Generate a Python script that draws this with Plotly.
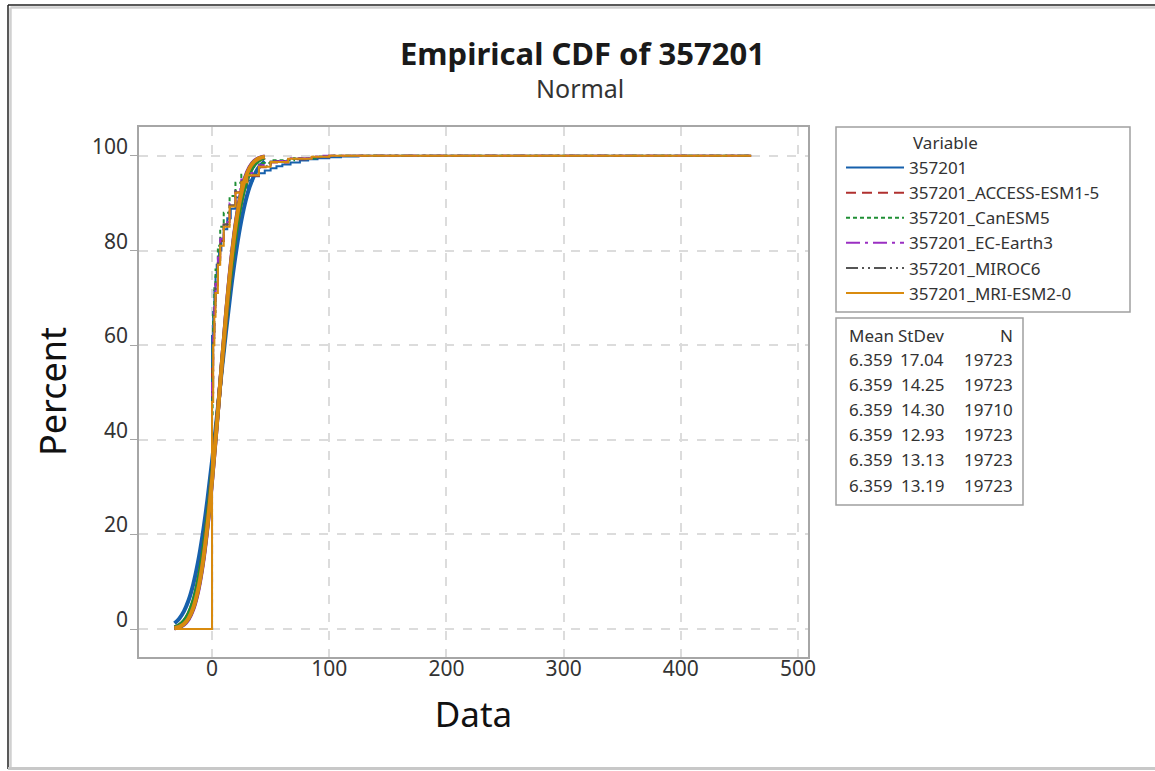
import plotly.graph_objects as go

# ---------------- data ----------------
series_names = ["357201", "357201_ACCESS-ESM1-5", "357201_CanESM5",
                "357201_EC-Earth3", "357201_MIROC6", "357201_MRI-ESM2-0"]

means = ["6.359", "6.359", "6.359", "6.359", "6.359", "6.359"]
stdevs = ["17.04", "14.25", "14.30", "12.93", "13.13", "13.19"]
counts = ["19723", "19723", "19710", "19723", "19723", "19723"]

# fitted normal CDF curves (percent)
fit_x = [-32, -28, -24, -20, -16, -12, -8, -4, 0, 4, 8, 12, 16, 20, 24, 28, 32, 36, 40, 45]
fit_357201 = [1.22, 2.19, 3.74, 6.09, 9.48, 14.07, 19.97, 27.16, 35.45, 44.51, 53.84, 62.97,
              71.43, 78.83, 84.97, 89.80, 93.38, 95.90, 97.58, 98.86]
fit_access = [0.36, 0.80, 1.66, 3.22, 5.83, 9.89, 15.68, 23.36, 32.78, 43.41, 54.58, 65.39,
              75.07, 83.07, 89.21, 93.56, 96.40, 98.12, 99.09, 99.67]
fit_canesm = [0.37, 0.81, 1.69, 3.27, 5.89, 9.96, 15.77, 23.45, 32.82, 43.45, 54.57, 65.33,
              74.98, 82.99, 89.14, 93.49, 96.35, 98.09, 99.07, 99.66]
fit_ecearth = [0.15, 0.39, 0.94, 2.07, 4.19, 7.78, 13.33, 21.16, 31.14, 42.78, 55.05, 66.86,
               77.22, 85.43, 91.37, 95.29, 97.63, 98.90, 99.54, 99.86]
fit_miroc = [0.17, 0.44, 1.04, 2.23, 4.43, 8.10, 13.70, 21.51, 31.41, 42.86, 54.97, 66.64,
             76.86, 85.06, 91.05, 95.03, 97.46, 98.80, 99.48, 99.84]
fit_mri = [0.18, 0.46, 1.07, 2.29, 4.50, 8.20, 13.81, 21.62, 31.49, 42.90, 54.93, 66.57,
           76.76, 84.94, 90.94, 94.96, 97.41, 98.77, 99.46, 99.83]

# empirical CDF step points (data value, percent)
emp_x_357201 = [-32, 0, 1, 2, 3, 4, 6, 8, 10, 13, 16, 20, 25, 30, 35, 40, 45, 50, 55, 60, 67,
                75, 82, 90, 100, 110, 125, 460]
emp_y_357201 = [0, 62, 67, 71.5, 74.5, 77, 80, 82.5, 84.5, 86.8, 88.8, 91.2, 93.3, 94.8, 95.7,
                96.3, 96.9, 97.4, 97.8, 98.2, 98.6, 99.0, 99.3, 99.5, 99.7, 99.85, 100, 100]
emp_x_access = [-32, 0, 1, 2, 3, 5, 7, 10, 15, 20, 25, 30, 40, 50, 65, 80, 100, 460]
emp_y_access = [0, 55, 63, 69, 73, 78, 82, 85.5, 89.5, 92.3, 94.3, 95.8, 97.6, 98.6, 99.3, 99.7, 100, 100]
emp_x_canesm = [-32, 0, 0.5, 1, 2, 3, 5, 7, 10, 15, 20, 25, 32, 40, 50, 70, 90, 100, 460]
emp_y_canesm = [0, 45, 60, 67, 72, 76, 81, 85, 88, 91.5, 94.3, 96, 97.7, 98.5, 99.1, 99.5, 99.8, 100, 100]
emp_x_ecearth = [-32, 0, 1, 2, 3, 5, 7, 10, 15, 20, 25, 30, 40, 50, 65, 85, 95, 460]
emp_y_ecearth = [0, 52, 62, 68, 73, 78.5, 82.5, 86, 90, 93, 95, 96.4, 98, 98.9, 99.5, 99.85, 100, 100]
emp_x_miroc = [-32, 0, 1, 2, 3, 5, 7, 10, 15, 20, 25, 30, 40, 50, 65, 85, 100, 460]
emp_y_miroc = [0, 50, 61, 67, 72, 78, 82, 85.5, 89.5, 92.5, 94.6, 96, 97.8, 98.8, 99.4, 99.8, 100, 100]
emp_x_mri = [-32, 0, 1, 2, 3, 5, 7, 10, 15, 20, 25, 30, 40, 50, 65, 85, 100, 460]
emp_y_mri = [0, 48, 60, 66, 71, 77, 81, 85, 89.3, 92.2, 94.4, 95.9, 97.7, 98.7, 99.4, 99.8, 100, 100]

x_ticks = [0, 100, 200, 300, 400, 500]
y_ticks = [0, 20, 40, 60, 80, 100]

# ---------------- styles ----------------
colors = ["#1660ac", "#b0302f", "#1f8f35", "#9a2fc2", "#555555", "#d98b0f"]
dashes = ["solid", "10px,6px", "4px,3px", "14px,5px,3px,5px", "12px,4px,2px,4px,2px,4px", "solid"]

fits = [fit_357201, fit_access, fit_canesm, fit_ecearth, fit_miroc, fit_mri]
emp_xs = [emp_x_357201, emp_x_access, emp_x_canesm, emp_x_ecearth, emp_x_miroc, emp_x_mri]
emp_ys = [emp_y_357201, emp_y_access, emp_y_canesm, emp_y_ecearth, emp_y_miroc, emp_y_mri]

FONT = "Noto Sans"
fig = go.Figure()
for i, name in enumerate(series_names):
    fig.add_trace(go.Scatter(
        x=emp_xs[i], y=emp_ys[i], mode="lines", name=name,
        line=dict(color=colors[i], width=2, dash=dashes[i], shape="hv"),
        showlegend=True))
    fig.add_trace(go.Scatter(
        x=fit_x, y=fits[i], mode="lines", name=name + " fit",
        line=dict(color=colors[i], width=4, shape="spline"),
        showlegend=False))

L, R, T, B = 139, 347, 127, 114
W, H = 1155, 771
pw, ph = W - L - R, H - T - B


def px(xp):
    return (xp - L) / pw


def py(yp):
    return (H - B - yp) / ph


annotations = [
    dict(text="<b>Empirical CDF of 357201</b>", x=px(582), y=py(53), xref="paper", yref="paper",
         showarrow=False, xanchor="center", yanchor="middle",
         font=dict(family=FONT, size=31, color="#1a1a1a")),
    dict(text="Normal", x=px(580), y=py(88), xref="paper", yref="paper",
         showarrow=False, xanchor="center", yanchor="middle",
         font=dict(family=FONT, size=25, color="#333333")),
    dict(text="Variable", x=px(912), y=py(142), xref="paper", yref="paper",
         showarrow=False, xanchor="left", yanchor="middle", borderpad=0,
         font=dict(family=FONT, size=17, color="#333333")),
]

# y tick labels (drawn slightly above their ticks, as in the reference)
for v in y_ticks:
    annotations.append(dict(text=str(v), x=px(129), y=v, xref="paper", yref="y",
                            yshift=10, showarrow=False, xanchor="right", yanchor="middle",
                            borderpad=0, font=dict(family=FONT, size=21, color="#333333")))

row_ys = [335, 359.5, 384.5, 409.5, 434.5, 459.5, 485]
cell_font = dict(family=FONT, size=17, color="#333333")
header = ["Mean", "StDev", "N"]
cols = [[header[0]] + means, [header[1]] + stdevs, [header[2]] + counts]
col_pos = [(848, "left"), (945, "right"), (1014, "right")]
for c, (xp, anchor) in enumerate(col_pos):
    for r, yp in enumerate(row_ys):
        annotations.append(dict(text=cols[c][r], x=px(xp), y=py(yp), xref="paper", yref="paper",
                                showarrow=False, xanchor=anchor, yanchor="middle",
                                borderpad=0, font=cell_font))

shapes = [
    # legend box
    dict(type="rect", xref="paper", yref="paper", x0=px(836), x1=px(1130), y0=py(312), y1=py(127),
         line=dict(color="#a0a0a0", width=1.5), fillcolor="rgba(0,0,0,0)"),
    # stats box
    dict(type="rect", xref="paper", yref="paper", x0=px(836), x1=px(1023), y0=py(505), y1=py(318),
         line=dict(color="#a0a0a0", width=1.5), fillcolor="rgba(0,0,0,0)"),
    # outer frame
    dict(type="line", xref="paper", yref="paper", x0=px(10.5), x1=px(1160), y0=py(7.5), y1=py(7.5),
         line=dict(color="#d0d0d0", width=2.5)),
    dict(type="line", xref="paper", yref="paper", x0=px(10.5), x1=px(10.5), y0=py(7.5), y1=py(769),
         line=dict(color="#d0d0d0", width=2.5)),
    dict(type="line", xref="paper", yref="paper", x0=px(8), x1=px(1160), y0=py(5), y1=py(5),
         line=dict(color="#222222", width=1.5)),
    dict(type="line", xref="paper", yref="paper", x0=px(8), x1=px(8), y0=py(5), y1=py(769),
         line=dict(color="#222222", width=1.5)),
    dict(type="line", xref="paper", yref="paper", x0=px(8), x1=px(1160), y0=py(768.5), y1=py(768.5),
         line=dict(color="#c8c8c8", width=3)),
]

fig.update_layout(
    width=W, height=H,
    margin=dict(l=L, r=R, t=T, b=B, pad=0, autoexpand=False),
    paper_bgcolor="white", plot_bgcolor="white",
    font=dict(family=FONT, color="#333333"),
    annotations=annotations, shapes=shapes,
    legend=dict(x=px(841), y=py(150), xanchor="left", yanchor="top",
                borderwidth=0, bgcolor="rgba(0,0,0,0)",
                itemwidth=58, font=dict(family=FONT, size=17, color="#333333"),
                traceorder="normal"),
    xaxis=dict(range=[-62.3, 508.5], tickvals=x_ticks, showgrid=True, griddash="dash",
               gridcolor="#dcdcdc", gridwidth=1.5, zeroline=False, showline=True,
               linecolor="#a6a6a6", linewidth=1.5, mirror=True, ticks="",
               ticklabelstandoff=-8,
               tickfont=dict(family=FONT, size=21, color="#333333"),
               title=dict(text="Data", standoff=22, font=dict(family=FONT, size=35, color="#111111"))),
    yaxis=dict(range=[-5.9, 106.1], tickvals=y_ticks, showgrid=True, griddash="dash",
               gridcolor="#dcdcdc", gridwidth=1.5, zeroline=False, showline=True,
               linecolor="#a6a6a6", linewidth=1.5, mirror=True, ticks="outside", ticklen=7,
               tickcolor="#a6a6a6", showticklabels=False),
)
# y axis title as a rotated annotation (tick labels are annotations)
fig.add_annotation(text="Percent", x=px(52), y=py(392), xref="paper", yref="paper",
                   textangle=-90, showarrow=False, xanchor="center", yanchor="middle",
                   font=dict(family=FONT, size=36, color="#111111"))

fig.write_html("out.html", config={"displayModeBar": False},
               post_script="document.body.style.margin='0';")
